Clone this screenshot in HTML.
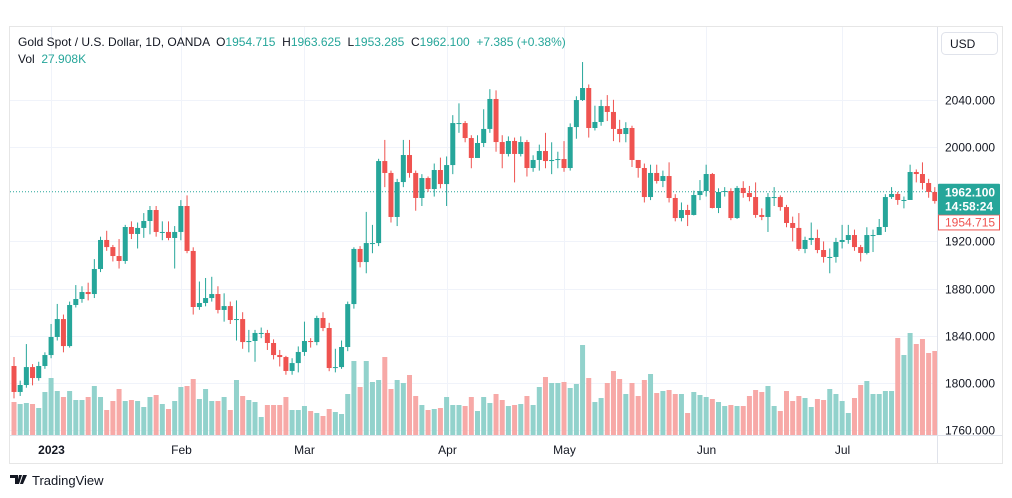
<!DOCTYPE html>
<html><head><meta charset="utf-8">
<style>
html,body{margin:0;padding:0;background:#fff;width:1012px;height:498px;overflow:hidden;font-family:"Liberation Sans","DejaVu Sans",sans-serif;}
svg{position:absolute;left:0;top:0;}
svg text{white-space:pre;}
</style></head>
<body>
<svg id="chart" width="1012" height="498" viewBox="0 0 1012 498" xmlns="http://www.w3.org/2000/svg">
<rect x="9.5" y="26.5" width="993" height="437" fill="#fff" stroke="#e6e6e6"/>
<g id="grid"></g>
<g id="vol"></g>
<g id="candles"></g>
<g id="axis"></g>
<g id="taxis"></g>
<text x="18" y="46" font-size="12" fill="#131722">Gold Spot / U.S. Dollar, 1D, OANDA  O<tspan fill="#26a69a">1954.715</tspan>  H<tspan fill="#26a69a">1963.625</tspan>  L<tspan fill="#26a69a">1953.285</tspan>  C<tspan fill="#26a69a">1962.100  +7.385 (+0.38%)</tspan></text>
<text x="18" y="63" font-size="12" fill="#131722">Vol  <tspan fill="#26a69a">27.908K</tspan></text>
<rect x="941.5" y="32.5" width="56" height="22" rx="4" fill="#fff" stroke="#e0e3eb"/>
<text x="950" y="48" font-size="12" fill="#131722">USD</text>
<g>
<path d="M10 475h8v9h-3v-6h-5z M19 475h3l-3 9h-2z M23 475h4l-4 9h-3z" fill="#131722"/>
<text x="32" y="485" font-size="13" fill="#131722">TradingView</text>
</g>
</svg>
<script>
const closes=[1792.4,1798.3,1813.5,1804.2,1814.4,1823.7,1839.0,1854.2,1831.3,1866.1,1871.2,1877.1,1875.4,1896.6,1921.2,1915.2,1907.6,1903.4,1932.2,1926.3,1931.4,1937.3,1946.6,1928.0,1928.0,1922.9,1928.0,1950.0,1911.9,1864.4,1867.8,1872.0,1875.4,1861.9,1865.2,1853.4,1854.2,1834.7,1835.6,1842.4,1842.4,1833.9,1823.7,1822.0,1810.2,1816.9,1826.3,1835.6,1834.7,1855.1,1846.6,1812.7,1813.5,1830.5,1866.9,1913.6,1902.5,1918.6,1918.6,1988.1,1978.0,1940.7,1970.3,1993.2,1978.0,1956.8,1973.7,1964.4,1980.5,1968.6,1984.7,2020.3,2020.3,2007.6,1990.7,2003.4,2015.3,2040.7,2004.2,1994.1,2005.1,1994.1,2004.2,1982.2,1989.0,1996.6,1988.1,1989.0,1989.8,1982.2,2016.9,2039.8,2050.0,2016.1,2021.2,2034.7,2029.7,2015.3,2011.0,2016.1,1989.0,1982.2,1957.6,1978.0,1971.2,1975.4,1956.8,1939.8,1946.6,1942.4,1959.3,1962.7,1977.1,1948.3,1961.9,1962.7,1939.8,1965.3,1961.0,1957.6,1942.4,1940.7,1957.6,1957.6,1949.1,1935.6,1931.4,1913.6,1921.2,1922.9,1912.7,1906.8,1906.8,1919.5,1921.2,1925.4,1915.2,1910.2,1925.4,1925.4,1932.2,1957.6,1960.2,1955.1,1955.1,1978.8,1977.1,1969.5,1961.9,1954.2];
const firstOpen=1814.4;
const highs=[1822,1802,1833,1816,1818,1826,1850,1867,1858,1869,1883,1882,1885,1905,1924,1929,1917,1922,1934,1937,1936,1944,1950,1950,1937,1937,1933,1955,1959,1915,1886,1889,1890,1882,1876,1869,1870,1860,1845,1845,1847,1845,1837,1828,1823,1821,1831,1852,1838,1857,1860,1851,1829,1836,1869,1915,1916,1945,1934,1990,2006,1980,1973,2006,2006,1980,1977,1975,1986,1991,1992,2027,2037,2022,2010,2010,2032,2049,2048,2010,2009,2008,2009,2006,1993,2002,2012,2004,1996,2005,2020,2043,2072,2053,2035,2040,2044,2040,2023,2021,2018,1989,1986,1985,1985,1980,1987,1960,1953,1951,1963,1972,1985,1978,1965,1966,1965,1967,1971,1967,1970,1948,1961,1966,1959,1951,1941,1944,1924,1936,1930,1920,1914,1923,1934,1934,1930,1917,1932,1930,1939,1960,1966,1962,1958,1985,1981,1987,1973,1966];
const lows=[1787,1789,1796,1798,1802,1812,1821,1836,1826,1830,1864,1868,1870,1872,1894,1912,1903,1897,1901,1922,1914,1923,1926,1924,1921,1921,1897,1921,1910,1858,1862,1865,1869,1859,1852,1850,1836,1829,1826,1818,1838,1828,1820,1814,1807,1807,1809,1823,1830,1832,1844,1810,1809,1812,1827,1863,1898,1893,1910,1916,1966,1936,1933,1966,1974,1946,1950,1962,1958,1965,1950,1977,2012,2004,1982,1995,2000,2012,1996,1982,1992,1970,1992,1975,1979,1980,1982,1977,1982,1979,1980,2007,2039,2008,2014,2018,2022,2005,2004,2004,1983,1974,1953,1955,1969,1966,1953,1937,1937,1933,1942,1955,1958,1948,1944,1958,1938,1939,1957,1954,1940,1938,1928,1950,1946,1932,1920,1912,1910,1917,1910,1902,1893,1902,1914,1918,1912,1903,1909,1911,1928,1928,1956,1951,1948,1957,1970,1964,1957,1952];
const volumes=[33,31,32,31,27,43,57,44,38,44,35,35,38,49,38,25,34,46,34,35,34,28,38,40,31,26,34,48,49,56,36,46,34,34,38,25,55,39,35,33,18,30,30,30,38,25,25,29,24,22,19,26,23,21,41,74,48,74,53,55,78,46,55,52,60,39,30,25,26,27,38,30,30,29,38,24,38,32,41,35,29,30,31,39,30,48,58,52,52,53,47,51,90,57,33,37,52,64,56,41,52,39,55,61,42,44,45,41,41,22,43,40,38,36,33,29,30,29,29,39,45,43,49,29,24,44,34,39,37,28,36,35,46,41,34,22,37,50,54,41,41,44,44,97,80,102,91,96,82,84];
const priceTicks=[2040,2000,1920,1880,1840,1800,1760];
const priceTickLabels=["2040.000","2000.000","1920.000","1880.000","1840.000","1800.000","1760.000"];
const monthIdx=[6,27,47,70,89,112,134];
const monthLabels=["2023","Feb","Mar","Apr","May","Jun","Jul"];
const lastPrice=1962.1, prevClose=1954.715;

const NS="http://www.w3.org/2000/svg";
const X0=14, STEP=6.18, Y_REF=2000, Y_REF_PX=147, PPU=1.18, VOL_BASE=435, VOL_SCALE=1.0;
const xs=i=>X0+i*STEP;
const ys=p=>Y_REF_PX+(Y_REF-p)*PPU;
const vh=v=>v*VOL_SCALE;
function mk(tag,attrs,parent){const e=document.createElementNS(NS,tag);for(const k in attrs)e.setAttribute(k,attrs[k]);parent.appendChild(e);return e;}
const grid=document.getElementById('grid'),vol=document.getElementById('vol'),cg=document.getElementById('candles'),ax=document.getElementById('axis'),tx=document.getElementById('taxis');
mk('line',{x1:937.5,y1:27,x2:937.5,y2:463,stroke:'#e0e3eb'},ax);
mk('line',{x1:10,y1:435.5,x2:1002,y2:435.5,stroke:'#e0e3eb'},ax);
priceTicks.forEach((p,i)=>{
  const y=Math.round(ys(p))+0.5;
  const g=mk('line',{x1:10,y1:y,x2:937,y2:y,stroke:'#f0f3fa'},grid);
  
  
  const t=mk('text',{x:945,y:y+4,'font-size':12,fill:'#131722'},ax);
  t.textContent=priceTickLabels[i];
  
  
});
monthIdx.forEach((idx,i)=>{
  const x=Math.round(xs(idx))+0.5;
  const g=mk('line',{x1:x,y1:27,x2:x,y2:435,stroke:'#f0f3fa'},grid);
  
  
  const t=mk('text',{x:x,y:454,'font-size':12,fill:'#131722','text-anchor':'middle','font-weight':i===0?'bold':'normal'},tx);
  t.textContent=monthLabels[i];
  
  
});
closes.forEach((c,i)=>{
  const o=i===0?firstOpen:closes[i-1];
  const up=c>=o;
  const x=xs(i);
  const v=mk('rect',{x:x-2.5,y:VOL_BASE-vh(volumes[i]),width:5,height:vh(volumes[i]),fill:up?'#92d2cc':'#f7a9a7'},vol);
  
  
});
closes.forEach((c,i)=>{
  const o=i===0?firstOpen:closes[i-1];
  const up=c>=o, col=up?'#26a69a':'#ef5350';
  const x=xs(i);
  const w=mk('line',{x1:x,x2:x,y1:ys(highs[i]),y2:ys(lows[i]),stroke:col,'stroke-width':1},cg);
  
  
  const top=ys(Math.max(o,c)),bot=ys(Math.min(o,c));
  const b=mk('rect',{x:x-2.5,y:top,width:5,height:Math.max(1,bot-top),fill:col},cg);
  
  
});
const ly=ys(lastPrice);
const pl=mk('line',{x1:10,x2:937,y1:ly,y2:ly,stroke:'#26a69a','stroke-dasharray':'1 2'},grid);


const py=ys(prevClose)+22;
const pb=mk('rect',{x:938.5,y:py-7.5,width:61,height:15,fill:'#fff',stroke:'#ef5350'},ax);


const pt=mk('text',{x:945,y:py+4,'font-size':12,fill:'#ef5350'},ax);
pt.textContent=prevClose.toFixed(3);


const lb=mk('rect',{x:938,y:ly-8,width:62,height:31,fill:'#26a69a',rx:1},ax);


const lt=mk('text',{x:945,y:ly+5,'font-size':12,fill:'#fff','font-weight':'bold'},ax);
lt.textContent=lastPrice.toFixed(3);


const ct=mk('text',{x:945,y:ly+19,'font-size':12,fill:'#fff','font-weight':'bold'},ax);
ct.textContent='14:58:24';


</script>
</body></html>
